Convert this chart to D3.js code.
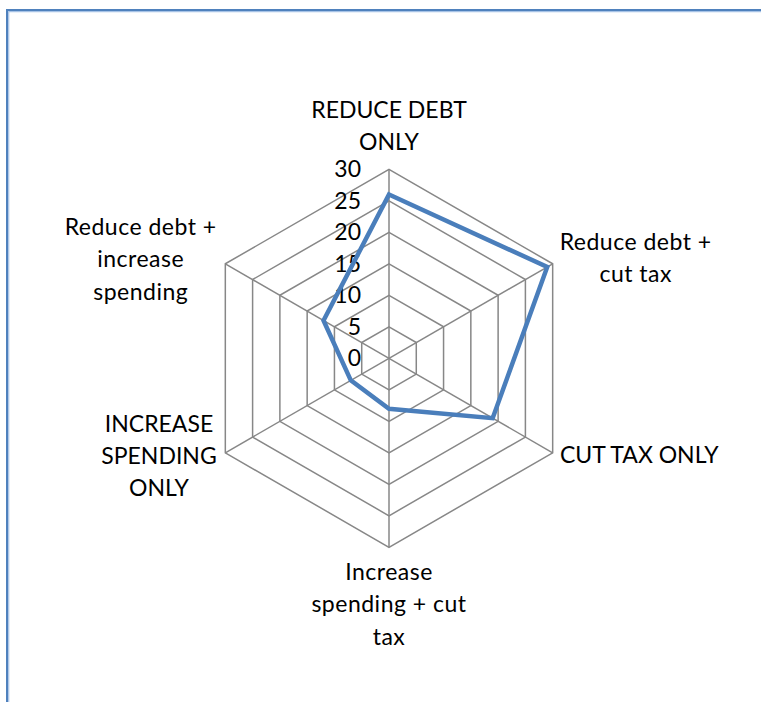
<!DOCTYPE html>
<html>
<head>
<meta charset="utf-8">
<script src="https://cdn.jsdelivr.net/npm/d3@7"></script>
<style>
  html, body { margin: 0; padding: 0; background: #fff; }
  svg { display: block; }
  text { font-family: Lato, "Open Sans", sans-serif; fill: #000; }
  text.lc { letter-spacing: 0.5px; }
</style>
</head>
<body>
<svg id="chart" width="761" height="702"></svg>
<script>
// Survey preferences by policy option
const categories = [
  ["REDUCE DEBT", "ONLY"],
  ["Reduce debt +", "cut tax"],
  ["CUT TAX ONLY"],
  ["Increase", "spending + cut", "tax"],
  ["INCREASE", "SPENDING", "ONLY"],
  ["Reduce debt +", "increase", "spending"]
];
const values = [26, 29, 19, 8, 7, 12];
const tickValues = [0, 5, 10, 15, 20, 25, 30];

const svg = d3.select("#chart");
const W = 761, H = 702;
const cx = 389, cy = 358.3, R = 189;
const fontSize = 23, lineH = 32.3;

// outer frame (left and top edges visible)
const frame = svg.append("g");
frame.append("path").attr("d", `M7,${H} V10 H${W}`)
  .attr("fill", "none").attr("stroke", "#4F81BD").attr("stroke-width", 2);
frame.append("path").attr("d", `M8.7,${H} V11.7 H${W}`)
  .attr("fill", "none").attr("stroke", "#A7C3E6").attr("stroke-width", 1.2);

const r = d3.scaleLinear().domain([0, 30]).range([0, R]);
const n = categories.length;
const angle = i => i * 2 * Math.PI / n;
const pt = (i, v) => [cx + r(v) * Math.sin(angle(i)), cy - r(v) * Math.cos(angle(i))];

const grid = svg.append("g").attr("stroke", "#878787").attr("stroke-width", 1.5).attr("fill", "none");
// rings
grid.selectAll("path.ring").data(tickValues.filter(t => t > 0)).join("path")
  .attr("class", "ring")
  .attr("d", t => d3.line()(d3.range(n).map(i => pt(i, t))) + "Z");
// spokes
grid.selectAll("line.spoke").data(d3.range(n)).join("line")
  .attr("class", "spoke")
  .attr("x1", cx).attr("y1", cy)
  .attr("x2", i => pt(i, 30)[0]).attr("y2", i => pt(i, 30)[1]);

// tick labels along the top spoke
svg.append("g").selectAll("text").data(tickValues).join("text")
  .attr("x", cx - 28)
  .attr("y", t => cy - r(t) + 8)
  .attr("text-anchor", "end")
  .attr("font-size", fontSize)
  .text(t => t);

// data series
const line = d3.lineRadial()
  .angle((d, i) => angle(i))
  .radius(d => r(d))
  .curve(d3.curveLinearClosed);
svg.append("path")
  .attr("transform", `translate(${cx},${cy})`)
  .attr("d", line(values))
  .attr("fill", "none")
  .attr("stroke", "#4A7EBB")
  .attr("stroke-width", 4.5)
  .attr("stroke-linejoin", "miter");

// category labels
// placement: how each block sits relative to its outer vertex
const place = [
  { align: "center", dx: 0,    dy: -51.3 },
  { align: "left",   dx: 7,    dy: -13.8 },
  { align: "left",   dx: 7.3,  dy: 10.2 },
  { align: "center", dx: 0,    dy: 32.7 },
  { align: "right",  dx: -8.6, dy: -21 },
  { align: "right",  dx: -8.6, dy: -28.8 }
];
const labels = svg.append("g").attr("font-size", fontSize);
categories.forEach((lines, i) => {
  const [vx, vy] = pt(i, 30);
  const p = place[i];
  const g = labels.append("g");
  const texts = lines.map((s, k) => g.append("text")
    .attr("class", /[a-z]/.test(s) ? "lc" : null)
    .attr("text-anchor", "middle")
    .attr("y", vy + p.dy + k * lineH)
    .text(s));
  const w = d3.max(texts, t => t.node().getComputedTextLength());
  let mid = vx + p.dx;
  if (p.align === "left") mid = vx + p.dx + w / 2;
  if (p.align === "right") mid = vx + p.dx - w / 2;
  texts.forEach(t => t.attr("x", mid));
});
</script>
</body>
</html>
